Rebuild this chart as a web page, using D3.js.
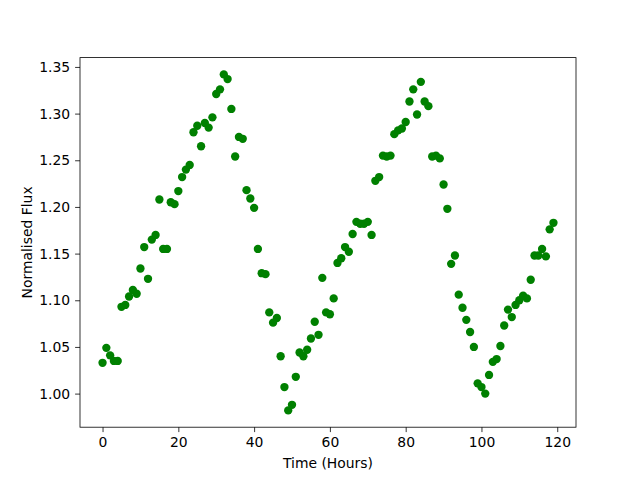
<!DOCTYPE html>
<html>
<head>
<meta charset="utf-8">
<script src="https://cdn.jsdelivr.net/npm/d3@7"></script>
<style>
  body { margin: 0; background: #fff; }
  text { font-family: "DejaVu Sans", sans-serif; }
</style>
</head>
<body>
<div id="chart"></div>
<script>
// Data: one reading per hour
var hours = d3.range(0, 120);
var flux = [
    1.033, 1.049, 1.041, 1.035, 1.035, 1.093, 1.095, 1.104, 1.111, 1.107,
    1.134, 1.157, 1.123, 1.165, 1.170, 1.208, 1.155, 1.155, 1.205, 1.203,
    1.217, 1.232, 1.240, 1.245, 1.280, 1.287, 1.265, 1.290, 1.285, 1.296,
    1.321, 1.326, 1.342, 1.337, 1.305, 1.254, 1.275, 1.273, 1.218, 1.209,
    1.199, 1.155, 1.129, 1.128, 1.087, 1.076, 1.081, 1.040, 1.007, 0.982,
    0.988, 1.018, 1.044, 1.040, 1.047, 1.059, 1.077, 1.063, 1.124, 1.087,
    1.085, 1.102, 1.140, 1.145, 1.157, 1.152, 1.171, 1.184, 1.182, 1.182,
    1.184, 1.170, 1.228, 1.232, 1.255, 1.254, 1.255, 1.278, 1.282, 1.284,
    1.291, 1.313, 1.326, 1.299, 1.334, 1.313, 1.308, 1.254, 1.255, 1.252,
    1.224, 1.198, 1.139, 1.148, 1.106, 1.092, 1.079, 1.066, 1.050, 1.011,
    1.007, 1.000, 1.020, 1.034, 1.037, 1.051, 1.073, 1.090, 1.082, 1.095,
    1.100, 1.105, 1.102, 1.122, 1.148, 1.148, 1.155, 1.147, 1.176, 1.183
];
var xTicks = [0, 20, 40, 60, 80, 100, 120];
var yTicks = [1.00, 1.05, 1.10, 1.15, 1.20, 1.25, 1.30, 1.35];

var margin = { top: 57.6, right: 64, bottom: 52.8, left: 80 },
    width = 640 - margin.left - margin.right,
    height = 480 - margin.top - margin.bottom;

var svg = d3.select("#chart")
    .append("svg")
    .attr("width", 640)
    .attr("height", 480)
    .append("g")
    .attr("transform", "translate(" + margin.left + "," + margin.top + ")");

// matplotlib style 5% padding on each side
function padded(ext) {
    var p = (ext[1] - ext[0]) * 0.05;
    return [ext[0] - p, ext[1] + p];
}

var x = d3.scaleLinear()
    .domain(padded(d3.extent(hours)))
    .range([0, width]);
var y = d3.scaleLinear()
    .domain(padded(d3.extent(flux)))
    .range([height, 0]);

var xAxis = svg.append("g")
    .attr("transform", "translate(0," + height + ")")
    .call(d3.axisBottom(x).tickValues(xTicks).tickFormat(d3.format("d")).tickSize(4.9).tickPadding(4.9));
var yAxis = svg.append("g")
    .call(d3.axisLeft(y).tickValues(yTicks).tickFormat(d3.format(".2f")).tickSize(4.9).tickPadding(4.9));

[xAxis, yAxis].forEach(function (a) {
    a.select(".domain").remove();
    a.selectAll("line").attr("stroke", "#000").attr("stroke-width", 0.8);
    a.selectAll("text")
        .attr("fill", "#000")
        .style("font-size", "13.9px")
        .style("font-family", "DejaVu Sans, sans-serif");
});

// points
svg.selectAll("circle")
    .data(hours)
    .enter()
    .append("circle")
    .attr("cx", function (d, i) { return x(d); })
    .attr("cy", function (d, i) { return y(flux[i]); })
    .attr("r", 4.17)
    .attr("fill", "green");

// frame
svg.append("rect")
    .attr("width", width)
    .attr("height", height)
    .attr("fill", "none")
    .attr("stroke", "#000")
    .attr("stroke-width", 0.8);

svg.append("text")
    .attr("x", width / 2)
    .attr("y", height + 41)
    .attr("text-anchor", "middle")
    .style("font-size", "13.9px")
    .text("Time (Hours)");

svg.append("text")
    .attr("transform", "rotate(-90)")
    .attr("x", -height / 2)
    .attr("y", -48)
    .attr("text-anchor", "middle")
    .style("font-size", "13.9px")
    .text("Normalised Flux");
</script>
</body>
</html>
